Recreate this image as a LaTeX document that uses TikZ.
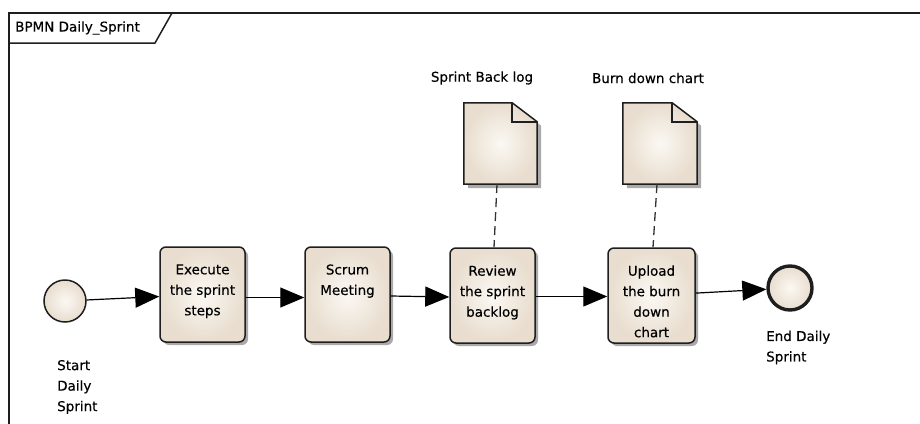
\documentclass[tikz,border=0pt]{standalone}
\usepackage{fontspec}
\setmainfont{DejaVu Sans}[FakeBold=0.35]
\usetikzlibrary{arrows.meta,shadows,calc}
\definecolor{bpmnlight}{RGB}{251,248,243}
\definecolor{bpmndark}{RGB}{232,221,206}
\definecolor{bpmnline}{RGB}{30,30,30}
\definecolor{bpmnshadow}{RGB}{170,170,170}

% data object: folded sheet drawn over the area of node #1
\newcommand\bpmndoc[1]{%
  \fill[bpmnshadow] ($(#1.north west)+(4,4)$) -- ($(#1.north east)+(-21,4)$)
    -- ($(#1.north east)+(4,23)$) -- ($(#1.south east)+(4,4)$)
    -- ($(#1.south west)+(4,4)$) -- cycle;
  \draw[docline, inner color=bpmnlight, outer color=bpmndark]
    (#1.north west) -- ($(#1.north east)+(-25,0)$) -- ($(#1.north east)+(0,19)$)
    -- (#1.south east) -- (#1.south west) -- cycle;
  \draw[docline] ($(#1.north east)+(-25,0)$) -- ($(#1.north east)+(-25,19)$)
    -- ($(#1.north east)+(0,19)$);
}

\begin{document}
\begin{tikzpicture}[x=1pt, y=-1pt,
  every node/.style={font=\fontsize{13.5}{20.5}\selectfont, text=black},
  task/.style={draw=bpmnline, line width=1.5pt, rounded corners=6pt,
    inner color=bpmnlight, outer color=bpmndark,
    minimum width=85pt, minimum height=95pt, inner sep=0pt,
    drop shadow={shadow xshift=3pt, shadow yshift=-3pt, fill=bpmnshadow, opacity=1}},
  tasktext/.style={anchor=north, align=center, inner sep=0pt},
  docbox/.style={minimum width=73pt, minimum height=81pt, inner sep=0pt},
  docline/.style={draw=bpmnline, line width=1.5pt, line join=miter},
  event/.style={circle, draw=bpmnline, inner color=bpmnlight, outer color=bpmndark, inner sep=0pt},
  flow/.style={line width=1.2pt, draw=black, -{Triangle[length=24pt, width=20pt]}},
  assoc/.style={line width=1.3pt, draw=black!80, dash pattern=on 9pt off 5pt},
  frameline/.style={draw=bpmnline, line width=1.5pt}]

\useasboundingbox (0,0) rectangle (920,423);

% diagram frame with its name tab
\draw[frameline] (925,13) -- (9,13) -- (9,428);
\draw[frameline] (9,43) -- (155,43) -- (172,13);
\node[anchor=west, inner sep=0pt] (frametitle) at (15,28) {BPMN Daily\_Sprint};

% events
\node[event, line width=1.5pt, minimum size=42pt] (start) at (65,301) {};
\node[event, line width=3.4pt, minimum size=44pt] (end) at (790,288) {};
\node[anchor=west, align=left, inner sep=0pt] (startlab) at (57,387) {Start\\Daily\\Sprint};
\node[anchor=west, align=left, inner sep=0pt] (endlab) at (766,347.5) {End Daily\\Sprint};

% tasks
\node[task] (t1) at (202.5,294.5) {};
\node[task] (t2) at (347.5,294.5) {};
\node[task] (t3) at (492.5,295.5) {};
\node[task, minimum width=87pt] (t4) at (651.5,295.5) {};
\node[tasktext] (t1txt) at ($(t1.north)+(0,18)$) {Execute\\the sprint\\steps};
\node[tasktext] (t2txt) at ($(t2.north)+(0,18)$) {Scrum\\Meeting};
\node[tasktext] (t3txt) at ($(t3.north)+(0,18)$) {Review\\the sprint\\backlog};
\node[tasktext] (t4txt) at ($(t4.north)+(0,18)$) {Upload\\the burn\\down\\chart};

% data objects
\node[docbox] (d1) at (500.5,143.5) {};
\node[docbox, minimum width=74pt] (d2) at (660,143.5) {};
\bpmndoc{d1}
\bpmndoc{d2}
\node (d1lab) at (482,78) {Sprint Back log};
\node (d2lab) at (648,78) {Burn down chart};

% associations
\draw[assoc] ([xshift=-3.5pt]d1.south) -- ([xshift=1.5pt]t3.north);
\draw[assoc] ([xshift=-3pt]d2.south) -- ([xshift=1.5pt]t4.north);

% sequence flows
\draw[flow] (start) -- (t1);
\draw[flow] ([yshift=-3pt]t1.east) -- ([yshift=-3pt]t2.west);
\draw[flow] ([yshift=-1.5pt]t2.east) -- ([yshift=-1.5pt]t3.west);
\draw[flow] ([yshift=-1pt]t3.east) -- ([yshift=-1pt]t4.west);
\draw[flow] (t4) -- (end);
\end{tikzpicture}
\end{document}
